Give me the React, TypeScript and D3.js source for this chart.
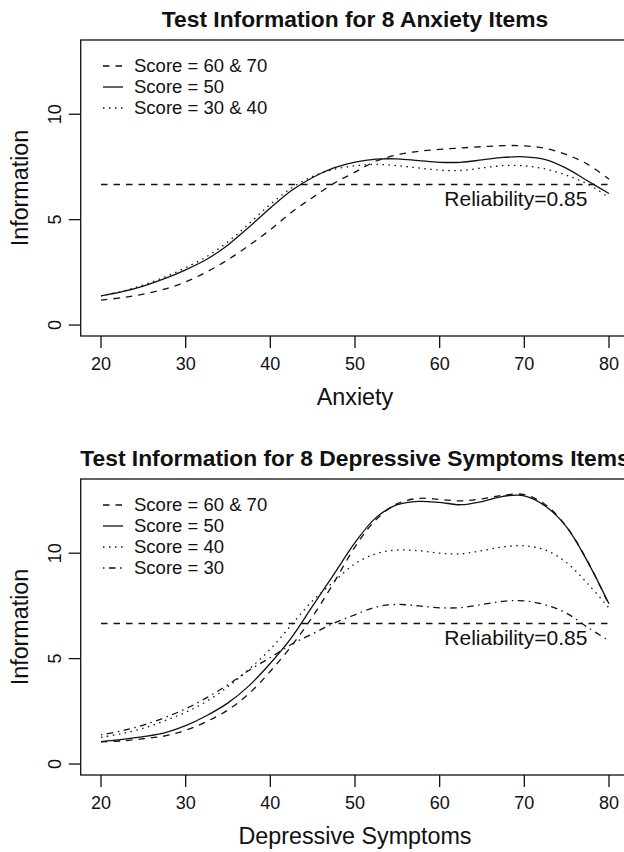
import React from 'react';
import * as d3 from 'd3';

// x grid (T-score) shared by every curve
const scoreGrid = [20, 22.5, 25, 27.5, 30, 32.5, 35, 37.5, 40, 42.5, 45, 47.5, 50, 52.5, 55, 57.5, 60, 62.5, 65, 67.5, 70, 72.5, 75, 77.5, 80];

// Anxiety panel
const anxScore6070 = [1.18, 1.3, 1.47, 1.7, 2.05, 2.52, 3.1, 3.78, 4.52, 5.35, 6.05, 6.72, 7.25, 7.78, 8.07, 8.24, 8.33, 8.4, 8.46, 8.51, 8.5, 8.38, 8.08, 7.62, 6.92];
const anxScore50 = [1.38, 1.58, 1.85, 2.2, 2.62, 3.12, 3.8, 4.65, 5.55, 6.38, 7.0, 7.45, 7.73, 7.87, 7.88, 7.8, 7.72, 7.72, 7.83, 7.95, 7.98, 7.85, 7.43, 6.83, 6.24];
const anxScore3040 = [1.38, 1.6, 1.9, 2.27, 2.72, 3.25, 3.95, 4.82, 5.72, 6.5, 7.05, 7.38, 7.55, 7.62, 7.56, 7.45, 7.35, 7.33, 7.45, 7.56, 7.55, 7.4, 7.1, 6.68, 6.05];

// Depressive symptoms panel
const depScore6070 = [1.05, 1.1, 1.2, 1.33, 1.6, 2.02, 2.57, 3.35, 4.4, 5.6, 7.0, 8.6, 10.3, 11.6, 12.35, 12.6, 12.55, 12.48, 12.58, 12.75, 12.78, 12.3, 11.25, 9.6, 7.55];
const depScore50 = [1.06, 1.17, 1.3, 1.48, 1.82, 2.3, 2.9, 3.72, 4.78, 6.0, 7.5, 9.0, 10.5, 11.7, 12.3, 12.46, 12.41, 12.3, 12.45, 12.7, 12.72, 12.23, 11.24, 9.58, 7.6];
const depScore40 = [1.27, 1.45, 1.7, 2.05, 2.45, 2.98, 3.67, 4.5, 5.45, 6.6, 7.75, 8.65, 9.5, 9.98, 10.15, 10.12, 10.0, 9.97, 10.12, 10.3, 10.35, 10.15, 9.55, 8.55, 7.4];
const depScore30 = [1.38, 1.58, 1.85, 2.2, 2.62, 3.15, 3.76, 4.45, 5.05, 5.68, 6.18, 6.68, 7.08, 7.45, 7.57, 7.5, 7.41, 7.42, 7.57, 7.72, 7.74, 7.55, 7.15, 6.48, 5.85];

const xTicks = [20, 30, 40, 50, 60, 70, 80];
const yTicks = [0, 5, 10];
const reliabilityInfo = 6.667;
const reliabilityLabel = 'Reliability=0.85';

const DASHED = '6.5,6';
const DOTTED = '1.5,4.5';
const DOTDASH = '1.5,4.5,6.5,4.5';
const FONT = '"Liberation Sans", Arial, Helvetica, sans-serif';
const INK = '#111';

type Series = { label: string; values: number[]; dash: string | null };

const BOX_H = 296;
const TICK = 12;

function Panel({ top, title, xLabel, series }: { top: number; title: string; xLabel: string; series: Series[] }) {
  const x = d3.scaleLinear().domain([17.6, 82.4]).range([80.7, 629.3]);
  const y = d3.scaleLinear().domain([-0.52, 13.52]).range([top + BOX_H, top]);
  const line = d3
    .line<number>()
    .x((_, i) => x(scoreGrid[i]))
    .y((d) => y(d))
    .curve(d3.curveCatmullRom.alpha(0.5));
  const bottom = top + BOX_H;
  const left = x(17.6);
  const midX = (x(17.6) + x(82.4)) / 2;

  return (
    <g fontFamily={FONT} fill={INK}>
      {/* the long title runs past the right edge, as in the original figure */}
      <text x={midX} y={top - 13.5} textAnchor="middle" fontWeight="bold" fontSize={22.8}>
        {title}
      </text>

      {/* box */}
      <rect x={left} y={top} width={x(82.4) - left} height={BOX_H} fill="none" stroke={INK} strokeWidth={1.3} />

      {/* x axis */}
      {xTicks.map((t) => (
        <g key={t}>
          <line x1={x(t)} x2={x(t)} y1={bottom} y2={bottom + TICK} stroke={INK} strokeWidth={1.3} />
          <text x={x(t)} y={bottom + 33.5} textAnchor="middle" fontSize={18}>
            {t}
          </text>
        </g>
      ))}
      <text x={midX} y={bottom + 69} textAnchor="middle" fontSize={23.3}>
        {xLabel}
      </text>

      {/* y axis */}
      {yTicks.map((t) => (
        <g key={t}>
          <line x1={left} x2={left - TICK} y1={y(t)} y2={y(t)} stroke={INK} strokeWidth={1.3} />
          <text transform={`translate(61,${y(t)}) rotate(-90)`} textAnchor="middle" fontSize={18}>
            {t}
          </text>
        </g>
      ))}
      <text transform={`translate(27.5,${top + BOX_H / 2}) rotate(-90)`} textAnchor="middle" fontSize={23.3}>
        Information
      </text>

      {/* reliability reference */}
      <line
        x1={x(20)}
        x2={x(80)}
        y1={y(reliabilityInfo)}
        y2={y(reliabilityInfo)}
        stroke={INK}
        strokeWidth={1.3}
        strokeDasharray={DASHED}
      />
      <text x={x(69)} y={y(6)} dy="0.35em" textAnchor="middle" fontSize={21}>
        {reliabilityLabel}
      </text>

      {/* curves */}
      {series.map((s) => (
        <path
          key={s.label}
          d={line(s.values) || ''}
          fill="none"
          stroke={INK}
          strokeWidth={1.3}
          strokeDasharray={s.dash || undefined}
        />
      ))}

      {/* legend */}
      {series.map((s, i) => {
        const ly = top + 26 + i * 21;
        return (
          <g key={'lg' + s.label}>
            <line x1={103} x2={123} y1={ly} y2={ly} stroke={INK} strokeWidth={1.3} strokeDasharray={s.dash || undefined} />
            <text x={134} y={ly} dy="0.35em" fontSize={18.5}>
              {s.label}
            </text>
          </g>
        );
      })}
    </g>
  );
}

export default function App() {
  const anxiety: Series[] = [
    { label: 'Score = 60 & 70', values: anxScore6070, dash: DASHED },
    { label: 'Score = 50', values: anxScore50, dash: null },
    { label: 'Score = 30 & 40', values: anxScore3040, dash: DOTTED },
  ];
  const depressive: Series[] = [
    { label: 'Score = 60 & 70', values: depScore6070, dash: DASHED },
    { label: 'Score = 50', values: depScore50, dash: null },
    { label: 'Score = 40', values: depScore40, dash: DOTTED },
    { label: 'Score = 30', values: depScore30, dash: DOTDASH },
  ];

  return (
    <svg width={624} height={852} style={{ position: 'absolute', left: 0, top: 0, background: '#fff' }}>
      <rect width={624} height={852} fill="#fff" />
      <Panel top={40} title="Test Information for 8 Anxiety Items" xLabel="Anxiety" series={anxiety} />
      <Panel top={479} title="Test Information for 8 Depressive Symptoms Items" xLabel="Depressive Symptoms" series={depressive} />
    </svg>
  );
}
